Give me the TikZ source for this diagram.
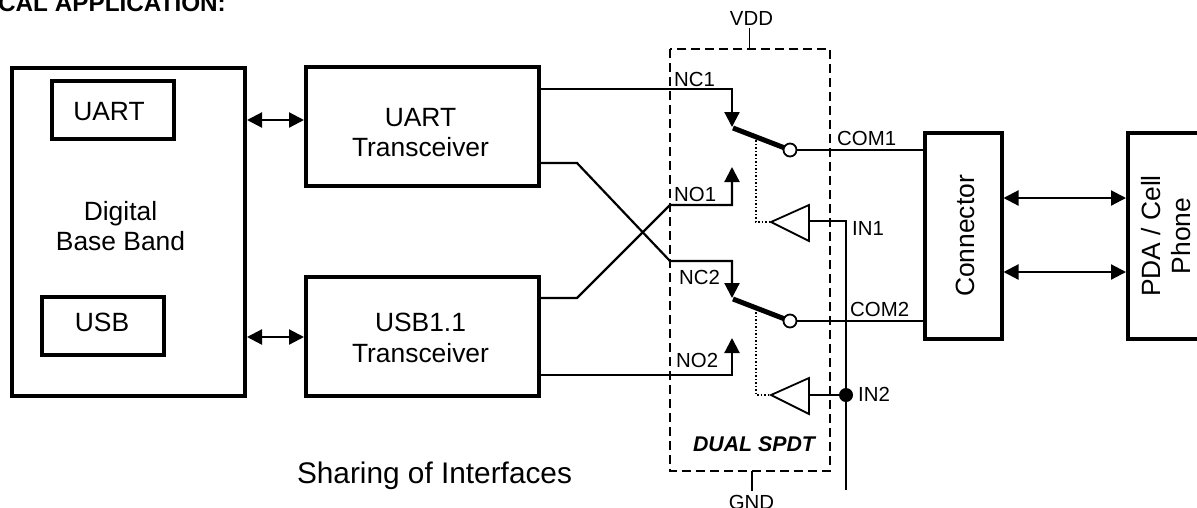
\documentclass[tikz,border=0pt]{standalone}
\usepackage{fontspec}
\setmainfont{Liberation Sans}
\usetikzlibrary{arrows.meta}
\tikzset{
  thickbox/.style={draw=black,line width=4pt,inner sep=0pt},
  lbl/.style={inner sep=0pt,align=center,font=\fontsize{26.4}{30.5}\selectfont},
  wire/.style={line width=2.2pt},
  pin/.style={inner sep=0pt,font=\fontsize{20.4}{22}\selectfont},
  drv/.style={draw=black,line width=1.8pt,fill=white},
  ctl/.style={line width=1.5pt,dotted},
  pole/.style={circle,draw=black,line width=1.8pt,fill=white,minimum size=13pt,inner sep=0pt}
}
\begin{document}
\begin{tikzpicture}[x=1pt,y=-1pt,>={Triangle[length=15pt,width=15pt]}]
\useasboundingbox (0,0) rectangle (1197,507);
\clip (0,0) rectangle (1197,507);

\node[anchor=base east,inner sep=0pt,font=\bfseries\fontsize{24.3}{26}\selectfont] (title) at (226,11) {TYPICAL APPLICATION:};

% blocks
\node[thickbox,minimum width=233pt,minimum height=328pt] (dbb) at (128.5,232) {};
\node[thickbox,minimum width=122pt,minimum height=58pt] (uart) at (113,110) {};
\node[thickbox,minimum width=122pt,minimum height=58pt] (usb) at (103,326) {};
\node[thickbox,minimum width=233pt,minimum height=119pt] (uarttx) at (422.5,126.5) {};
\node[thickbox,minimum width=233pt,minimum height=119pt] (usbtx) at (422.5,336.5) {};
\node[thickbox,minimum width=77pt,minimum height=206pt] (conn) at (963,236) {};
\node[thickbox,minimum width=100pt,minimum height=206pt] (pda) at (1178,236) {};

\node[lbl] (dbbt) at (120.5,226) {Digital\\Base Band};
\node[lbl] (uartt) at (109,112) {UART};
\node[lbl] (usbt) at (102,322) {USB};
\node[lbl] (uarttxt) at (420.5,132.5) {UART\\Transceiver};
\node[lbl] (usbtxt) at (420.5,338) {USB1.1\\Transceiver};
\node[lbl,rotate=90] (connt) at (965,236) {Connector};
\node[lbl,rotate=90] (pdat) at (1166,236) {PDA / Cell\\Phone};

\draw[<->,wire] (dbb.east |- 0,120) -- (uarttx.west |- 0,120);
\draw[<->,wire] (dbb.east |- 0,337) -- (usbtx.west |- 0,337);
\draw[<->,wire] (conn.east |- 0,198) -- (pda.west |- 0,198);
\draw[<->,wire] (conn.east |- 0,272) -- (pda.west |- 0,272);

% switch package
\draw[line width=1.5pt,dash pattern=on 9pt off 5pt] (670,49) rectangle (830,471);
\coordinate (vddin) at (749.5,48);
\coordinate (vddup) at (749.5,28);
\coordinate (gndin) at (752,471);
\coordinate (gnddn) at (752,491);
\node[pin] (vdd) at (751.5,18) {VDD};
\node[pin,anchor=base] (gnd) at (751.5,509) {GND};
\draw[line width=1.8pt] (vddup) -- (vddin);
\draw[line width=1.8pt] (gnddn) -- (gndin);

% signal lines
\coordinate (nc1) at (732,127);
\coordinate (no1) at (732,167);
\coordinate (nc2) at (732,298);
\coordinate (no2) at (732,338);
\draw[wire,->] (uarttx.east |- 0,89) -- (732,89) -- (nc1);
\draw[wire,->] (usbtx.east |- 0,298) -- (577,298) -- (670,205) -- (732,205) -- (no1);
\draw[wire,->] (uarttx.east |- 0,163) -- (577,163) -- (670,261) -- (732,261) -- (nc2);
\draw[wire,->] (usbtx.east |- 0,375) -- (732,375) -- (no2);

% poles
\coordinate (pole1) at (790,150);
\coordinate (pole2) at (790,321);
\draw[line width=5pt] (733,128) -- (pole1);
\draw[line width=5pt] (733,299) -- (pole2);
\draw[wire] (pole1) -- (conn.west |- pole1);
\draw[wire] (pole2) -- (conn.west |- pole2);
\node[pole] (com1) at (pole1) {};
\node[pole] (com2) at (pole2) {};

% drivers
\draw[ctl] (756,140) -- (756,222) -- (771,222);
\draw[ctl] (756,312) -- (756,395) -- (771,395);
\draw[drv] (771,222) -- (809,205) -- (809,241) -- cycle;
\draw[drv] (771,395) -- (809,378) -- (809,414) -- cycle;
\draw[wire] (809,221) -- (846,221) -- (846,490);
\draw[wire] (809,395) -- (846,395);
\fill (846,395) circle (7pt);

\node[pin,anchor=base west] (nc1t) at (674,86) {NC1};
\node[pin,anchor=base west] (no1t) at (674,201) {NO1};
\node[pin,anchor=base west] (nc2t) at (679,284) {NC2};
\node[pin,anchor=base west] (no2t) at (676,367) {NO2};
\node[pin,anchor=base west] (com1t) at (837,145) {COM1};
\node[pin,anchor=base west] (com2t) at (850,316) {COM2};
\node[pin,anchor=base west] (in1t) at (852,235) {IN1};
\node[pin,anchor=base west] (in2t) at (858,401) {IN2};
\node[inner sep=0pt,font=\bfseries\itshape\fontsize{21.3}{24}\selectfont] (spdt) at (754,444) {DUAL SPDT};
\node[inner sep=0pt,font=\fontsize{29.8}{32}\selectfont] (share) at (434.5,476) {Sharing of Interfaces};
\end{tikzpicture}
\end{document}
